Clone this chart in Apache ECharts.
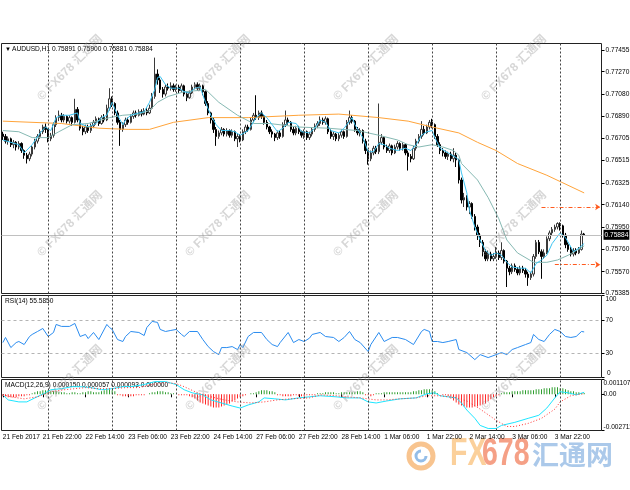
<!DOCTYPE html>
<html><head><meta charset="utf-8">
<script src="https://cdn.jsdelivr.net/npm/echarts@6/dist/echarts.min.js"></script>
<style>html,body{margin:0;padding:0;background:#fff}#c{width:630px;height:490px}</style>
</head><body><div id="c"></div>
<script>
// ---------- DATA ----------
const opens = [
0.7674,0.7672,0.7668,0.7670,0.7665,0.7667,0.7663,0.7666,0.7660,0.7656,
0.7653,0.7657,0.7663,0.7668,0.7672,0.7676,0.7680,0.7678,0.7670,0.7673,
0.7682,0.7688,0.7690,0.7686,0.7689,0.7685,0.7688,0.7684,0.7695,0.7686,
0.7679,0.7676,0.7680,0.7677,0.7681,0.7684,0.7687,0.7683,0.7688,0.7686,
0.7696,0.7704,0.7700,0.7692,0.7684,0.7678,0.7682,0.7686,0.7684,0.7689,
0.7692,0.7690,0.7693,0.7691,0.7694,0.7692,0.7696,0.7706,0.7725,0.7720,
0.7712,0.7708,0.7714,0.7713,0.7715,0.7712,0.7714,0.7711,0.7715,0.7708,
0.7705,0.7709,0.7714,0.7716,0.7713,0.7715,0.7710,0.7700,0.7692,0.7686,
0.7678,0.7672,0.7675,0.7678,0.7674,0.7677,0.7673,0.7676,0.7670,0.7672,
0.7669,0.7676,0.7680,0.7678,0.7686,0.7690,0.7688,0.7692,0.7689,0.7684,
0.7680,0.7676,0.7674,0.7671,0.7675,0.7672,0.7682,0.7686,0.7684,0.7678,
0.7675,0.7679,0.7676,0.7673,0.7676,0.7671,0.7674,0.7678,0.7681,0.7683,
0.7686,0.7684,0.7687,0.7676,0.7672,0.7674,0.7670,0.7673,0.7676,0.7672,
0.7684,0.7688,0.7685,0.7678,0.7675,0.7677,0.7668,0.7660,0.7653,0.7658,
0.7662,0.7659,0.7667,0.7671,0.7663,0.7660,0.7664,0.7658,0.7663,0.7666,
0.7662,0.7665,0.7658,0.7655,0.7653,0.7662,0.7668,0.7672,0.7678,0.7675,
0.7680,0.7684,0.7682,0.7672,0.7665,0.7660,0.7658,0.7655,0.7657,0.7653,
0.7656,0.7652,0.7635,0.7618,0.7620,0.7612,0.7615,0.7604,0.7595,0.7588,
0.7582,0.7574,0.7568,0.7572,0.7568,0.7570,0.7573,0.7569,0.7575,0.7566,
0.7560,0.7557,0.7562,0.7559,0.7556,0.7560,0.7558,0.7555,0.7552,0.7555,
0.7570,0.7582,0.7574,0.7570,0.7573,0.7585,0.7590,0.7593,0.7595,0.7598,
0.7596,0.7588,0.7580,0.7576,0.7572,0.7575,0.7573,0.7576,0.75891];
const closes = [
0.7672,0.7668,0.7670,0.7665,0.7667,0.7663,0.7666,0.7660,0.7656,0.7653,
0.7657,0.7663,0.7668,0.7672,0.7676,0.7680,0.7678,0.7670,0.7673,0.7682,
0.7688,0.7690,0.7686,0.7689,0.7685,0.7688,0.7684,0.7695,0.7686,0.7679,
0.7676,0.7680,0.7677,0.7681,0.7684,0.7687,0.7683,0.7688,0.7686,0.7696,
0.7704,0.7700,0.7692,0.7684,0.7678,0.7682,0.7686,0.7684,0.7689,0.7692,
0.7690,0.7693,0.7691,0.7694,0.7692,0.7696,0.7706,0.7725,0.7720,0.7712,
0.7708,0.7714,0.7713,0.7715,0.7712,0.7714,0.7711,0.7715,0.7708,0.7705,
0.7709,0.7714,0.7716,0.7713,0.7715,0.7710,0.7700,0.7692,0.7686,0.7678,
0.7672,0.7675,0.7678,0.7674,0.7677,0.7673,0.7676,0.7670,0.7672,0.7669,
0.7676,0.7680,0.7678,0.7686,0.7690,0.7688,0.7692,0.7689,0.7684,0.7680,
0.7676,0.7674,0.7671,0.7675,0.7672,0.7682,0.7686,0.7684,0.7678,0.7675,
0.7679,0.7676,0.7673,0.7676,0.7671,0.7674,0.7678,0.7681,0.7683,0.7686,
0.7684,0.7687,0.7676,0.7672,0.7674,0.7670,0.7673,0.7676,0.7672,0.7684,
0.7688,0.7685,0.7678,0.7675,0.7677,0.7668,0.7660,0.7653,0.7658,0.7662,
0.7659,0.7667,0.7671,0.7663,0.7660,0.7664,0.7658,0.7663,0.7666,0.7662,
0.7665,0.7658,0.7655,0.7653,0.7662,0.7668,0.7672,0.7678,0.7675,0.7680,
0.7684,0.7682,0.7672,0.7665,0.7660,0.7658,0.7655,0.7657,0.7653,0.7656,
0.7652,0.7635,0.7618,0.7620,0.7612,0.7615,0.7604,0.7595,0.7588,0.7582,
0.7574,0.7568,0.7572,0.7568,0.7570,0.7573,0.7569,0.7575,0.7566,0.7560,
0.7557,0.7562,0.7559,0.7556,0.7560,0.7558,0.7555,0.7552,0.7555,0.7570,
0.7582,0.7574,0.7570,0.7573,0.7585,0.7590,0.7593,0.7595,0.7598,0.7596,
0.7588,0.7580,0.7576,0.7572,0.7575,0.7573,0.7576,0.7589,0.75884];
const lows = [
0.7669,0.7666,0.7665,0.7663,0.7662,0.7660,0.7661,0.7658,0.7653,0.7649,
0.7651,0.7655,0.7661,0.7666,0.7670,0.7674,0.7675,0.7667,0.7668,0.7671,
0.7680,0.7685,0.7684,0.7684,0.7683,0.7683,0.7681,0.7683,0.7684,0.7677,
0.7673,0.7674,0.7675,0.7675,0.7679,0.7682,0.7681,0.7682,0.7684,0.7685,
0.7694,0.7697,0.7690,0.7682,0.7664,0.7676,0.7680,0.7682,0.7683,0.7687,
0.7688,0.7689,0.7689,0.7690,0.7690,0.7691,0.7695,0.7704,0.7716,0.7709,
0.7705,0.7706,0.7711,0.7711,0.7710,0.7710,0.7709,0.7710,0.7706,0.7702,
0.7704,0.7708,0.7712,0.7711,0.7711,0.7707,0.7698,0.7690,0.7683,0.7675,
0.7664,0.7670,0.7673,0.7672,0.7672,0.7671,0.7671,0.7668,0.7663,0.7667,
0.7668,0.7674,0.7676,0.7677,0.7684,0.7686,0.7686,0.7687,0.7682,0.7678,
0.7674,0.7671,0.7668,0.7669,0.7670,0.7671,0.7680,0.7682,0.7676,0.7673,
0.7673,0.7674,0.7671,0.7670,0.7669,0.7669,0.7672,0.7676,0.7679,0.7681,
0.7682,0.7682,0.7674,0.7670,0.7669,0.7668,0.7668,0.7671,0.7670,0.7671,
0.7682,0.7683,0.7676,0.7673,0.7672,0.7666,0.7657,0.7648,0.7651,0.7656,
0.7657,0.7657,0.7665,0.7661,0.7658,0.7658,0.7656,0.7657,0.7661,0.7660,
0.7660,0.7656,0.7643,0.7650,0.7652,0.7660,0.7666,0.7670,0.7673,0.7674,
0.7678,0.7679,0.7670,0.7663,0.7657,0.7655,0.7653,0.7652,0.7651,0.7650,
0.7646,0.7632,0.7615,0.7612,0.7609,0.7606,0.7602,0.7592,0.7584,0.7578,
0.7570,0.7566,0.7566,0.7566,0.7566,0.7568,0.7567,0.7567,0.7564,0.7544,
0.7554,0.7555,0.7557,0.7554,0.7554,0.7556,0.7552,0.7545,0.7550,0.7553,
0.7568,0.7572,0.7551,0.7568,0.7572,0.7583,0.7588,0.7591,0.7593,0.7592,
0.7586,0.7577,0.7574,0.7570,0.7570,0.7571,0.7572,0.7575,0.75881];
const highs = [
0.7676,0.7674,0.7672,0.7671,0.7669,0.7668,0.7668,0.7667,0.7661,0.7658,
0.7659,0.7664,0.7670,0.7674,0.7678,0.7682,0.7683,0.7679,0.7675,0.7684,
0.7690,0.7694,0.7692,0.7691,0.7690,0.7690,0.7689,0.7704,0.7697,0.7687,
0.7681,0.7682,0.7682,0.7683,0.7686,0.7689,0.7688,0.7690,0.7691,0.7699,
0.7713,0.7706,0.7701,0.7694,0.7686,0.7684,0.7688,0.7688,0.7691,0.7694,
0.7694,0.7695,0.7695,0.7696,0.7696,0.7699,0.7709,0.7739,0.7729,0.7722,
0.7714,0.7716,0.7717,0.7718,0.7717,0.7716,0.7716,0.7717,0.7716,0.7710,
0.7711,0.7716,0.7718,0.7718,0.7717,0.7716,0.7711,0.7702,0.7693,0.7688,
0.7680,0.7677,0.7680,0.7679,0.7679,0.7678,0.7678,0.7677,0.7674,0.7674,
0.7678,0.7682,0.7682,0.7688,0.7692,0.7707,0.7694,0.7694,0.7690,0.7686,
0.7681,0.7678,0.7675,0.7677,0.7677,0.7684,0.7694,0.7688,0.7685,0.7680,
0.7681,0.7681,0.7677,0.7678,0.7677,0.7676,0.7680,0.7683,0.7685,0.7689,
0.7688,0.7689,0.7688,0.7678,0.7676,0.7675,0.7675,0.7678,0.7677,0.7686,
0.7694,0.7690,0.7686,0.7680,0.7679,0.7678,0.7670,0.7661,0.7660,0.7664,
0.7664,0.7700,0.7674,0.7672,0.7665,0.7666,0.7665,0.7665,0.7668,0.7667,
0.7667,0.7666,0.7660,0.7657,0.7664,0.7670,0.7674,0.7685,0.7681,0.7682,
0.7686,0.7687,0.7683,0.7674,0.7667,0.7662,0.7660,0.7659,0.7659,0.7662,
0.7658,0.7653,0.7637,0.7624,0.7622,0.7617,0.7616,0.7606,0.7597,0.7590,
0.7584,0.7576,0.7575,0.7574,0.7573,0.7578,0.7575,0.7582,0.7576,0.7567,
0.7562,0.7564,0.7564,0.7561,0.7562,0.7562,0.7560,0.7557,0.7557,0.7572,
0.7584,0.7584,0.7576,0.7576,0.7587,0.7592,0.7595,0.7597,0.7599,0.7599,
0.7597,0.7590,0.7582,0.7578,0.7577,0.7577,0.7578,0.7592,0.75900];

// moving averages: [bar index, value]
const fastMA = [[0,0.7669],[3,0.7667],[6,0.7665],[8,0.7658],[11,0.7665],[14,0.7675],[16,0.7680],[18,0.7677],[20,0.7688],[22,0.7690],[25,0.7690],[28,0.7692],[29,0.7683],[32,0.7680],[35,0.7683],[37,0.7688],[39,0.7690],[41,0.7701],[43,0.7690],[45,0.7682],[46,0.7686],[48,0.7690],[51,0.7692],[53,0.7693],[55,0.7701],[57,0.7712],[58,0.7722],[59,0.7723],[61,0.7716],[63,0.7713],[66,0.7713],[68,0.7710],[70,0.7709],[72,0.7713],[74,0.7714],[76,0.7701],[78,0.7690],[80,0.7682],[82,0.7677],[85,0.7677],[87,0.7676],[89,0.7673],[92,0.7677],[95,0.7688],[97,0.7692],[99,0.7688],[101,0.7682],[103,0.7676],[105,0.7679],[107,0.7684],[110,0.7683],[112,0.7676],[115,0.7675],[117,0.7679],[119,0.7686],[121,0.7684],[123,0.7677],[126,0.7675],[128,0.7679],[131,0.7688],[132,0.7682],[135,0.7671],[137,0.7659],[139,0.7659],[141,0.7666],[143,0.7665],[145,0.7662],[148,0.7660],[151,0.7662],[153,0.7660],[155,0.7665],[157,0.7673],[159,0.7676],[161,0.7677],[162,0.7671],[164,0.7662],[167,0.7658],[170,0.7654],[171,0.7652],[172,0.7641],[174,0.7624],[175,0.7609],[177,0.7595],[179,0.7584],[181,0.7575],[183,0.7571],[185,0.7573],[187,0.7571],[189,0.7565],[191,0.7561],[194,0.7560],[196,0.7560],[198,0.7556],[200,0.7564],[202,0.7567],[204,0.7571],[206,0.7581],[209,0.7590],[211,0.7586],[213,0.7578],[214,0.7574],[216,0.7577],[218,0.7581]];
const slowMA = [[0,0.7677],[6,0.7676],[11,0.7671],[17,0.7671],[21,0.7676],[26,0.7682],[32,0.7683],[40,0.7688],[45,0.7690],[51,0.7691],[55,0.7694],[58,0.7701],[62,0.7706],[68,0.7710],[73,0.7711],[76,0.7712],[81,0.7701],[88,0.7690],[94,0.7683],[100,0.7683],[111,0.7680],[122,0.7679],[133,0.7677],[141,0.7673],[148,0.7669],[152,0.7665],[156,0.7663],[161,0.7665],[165,0.7663],[169,0.7660],[171,0.7656],[172,0.7649],[178,0.7635],[182,0.7620],[186,0.7602],[189,0.7584],[193,0.7573],[199,0.7565],[204,0.7565],[208,0.7567],[212,0.7571],[218,0.7579]];
const longMA = [[0,0.7685],[22,0.7683],[36,0.7679],[47,0.7678],[55,0.7678],[64,0.7684],[77,0.7688],[92,0.7688],[111,0.7690],[126,0.7691],[141,0.7688],[152,0.7685],[161,0.7680],[171,0.7675],[178,0.7667],[185,0.7660],[193,0.7649],[204,0.7639],[218,0.7624]];

const rsi = [[0,42.6],[1,48.8],[3,36.5],[5,42.6],[6,43.9],[8,40.2],[10,50.0],[11,52.5],[13,56.1],[15,59.8],[17,50.0],[19,54.9],[20,64.7],[22,62.3],[25,62.3],[27,65.9],[29,50.0],[31,52.5],[32,47.5],[34,54.9],[36,46.3],[39,64.7],[40,61.0],[41,58.6],[43,46.3],[45,43.9],[46,50.0],[48,56.1],[51,54.9],[53,51.2],[54,61.0],[56,68.4],[58,67.2],[59,58.6],[61,56.1],[63,57.4],[65,58.6],[67,52.5],[68,50.0],[70,56.1],[73,56.1],[75,46.3],[77,37.7],[79,31.6],[81,27.9],[82,36.5],[84,36.5],[86,37.7],[88,34.1],[89,40.2],[90,36.5],[92,50.0],[94,54.9],[97,54.9],[99,46.3],[101,40.2],[103,37.7],[104,42.6],[107,54.9],[109,42.6],[111,46.3],[113,43.9],[115,48.0],[116,52.5],[119,54.9],[121,50.0],[124,48.8],[126,43.9],[128,48.8],[130,56.1],[132,46.3],[134,42.6],[137,31.6],[138,40.2],[141,54.9],[143,43.9],[146,48.8],[148,48.8],[151,46.3],[154,40.2],[157,56.1],[158,58.6],[160,56.1],[161,43.9],[163,43.9],[165,42.6],[167,43.9],[170,46.3],[171,34.1],[174,30.4],[177,21.8],[179,27.9],[182,24.3],[185,27.9],[187,30.4],[189,27.9],[191,34.1],[193,36.5],[196,40.2],[198,42.6],[199,52.5],[201,46.3],[203,43.9],[205,52.5],[207,58.6],[209,56.1],[211,50.0],[213,48.8],[215,50.0],[217,56.1],[218,55.585]];

const macdMain = [[0,-0.00004],[2,-0.00042],[6,-0.00057],[9,-0.00057],[12,-0.00027],[16,0.00011],[18,0.00034],[22,0.00042],[26,0.00057],[29,0.00057],[33,0.0005],[37,0.00034],[41,0.00042],[45,0.00057],[48,0.00057],[53,0.00073],[57,0.00095],[61,0.00095],[65,0.00073],[68,0.00034],[71,0.00011],[75,-0.00004],[78,-0.00042],[82,-0.00065],[86,-0.00088],[89,-0.00103],[92,-0.0008],[96,-0.00057],[98,-0.00027],[102,-0.00034],[106,-0.00042],[111,-0.00027],[115,-0.00019],[119,-0.00011],[125,-0.00019],[129,-0.00027],[134,-0.00027],[137,-0.00057],[140,-0.00065],[144,-0.0005],[149,-0.00034],[155,-0.00027],[159,0.00004],[162,0.00011],[164,-0.00011],[170,-0.00027],[172,-0.00065],[174,-0.00118],[177,-0.0018],[179,-0.00233],[182,-0.00256],[185,-0.00256],[187,-0.00233],[192,-0.0021],[197,-0.0018],[201,-0.00157],[204,-0.00103],[207,-0.00027],[209,0.00019],[212,0.00011],[215,-0.00004],[218,0.00015]];
const macdSignal = [[0,-0.00004],[3,-0.00019],[8,-0.00034],[13,-0.00019],[18,0.00019],[23,0.00034],[31,0.0005],[36,0.00042],[41,0.00042],[46,0.0005],[51,0.0005],[56,0.00073],[61,0.00088],[65,0.0008],[68,0.00057],[73,0.00011],[78,-0.00019],[83,-0.00042],[88,-0.00057],[93,-0.00065],[98,-0.00057],[103,-0.00042],[108,-0.00034],[115,-0.00027],[119,-0.00004],[125,-0.00011],[129,-0.00019],[134,-0.00027],[140,-0.00042],[144,-0.00042],[149,-0.00034],[155,-0.00027],[159,-0.00011],[164,-0.00011],[170,-0.00027],[174,-0.0005],[179,-0.00111],[185,-0.00195],[189,-0.00241],[192,-0.00241],[197,-0.00218],[202,-0.0018],[207,-0.00111],[209,-0.00057],[213,-0.00011],[218,0.000057]];
const macdHist = [
-0.00015,-0.00015,-0.00023,-0.00023,-0.00023,-0.00023,-0.00015,-0.00015,-0.00015,-0.00008,-0.00008,
0.00008,0.00015,0.00023,0.00023,0.00031,0.00031,0.00031,0.00023,0.00023,0.00023,0.00015,
0.00015,0.00015,0.00008,0.00008,0.00015,0.00015,0.00008,
0.00008,0.00015,0.00015,0.00023,0.00023,0.00015,0.00015,0.00015,
0.00023,0.00031,0.00038,0.00038,0.00031,0.00023,
-0.00008,-0.00008,-0.00015,-0.00015,-0.00015,-0.00015,-0.00015,-0.00008,-0.00008,-0.00008,-0.00008,0,
0.00008,0.00015,0.00015,0.00023,0.00023,0.00023,0.00015,0.00015,
0.00008,0.00008,0,-0.00008,-0.00008,-0.00008,-0.00008,-0.00015,
-0.00023,-0.00031,-0.00046,-0.00061,-0.00069,-0.00076,-0.00084,-0.00092,-0.00099,-0.00099,-0.00099,-0.00092,-0.00084,-0.00076,-0.00069,-0.00053,-0.00046,-0.00031,-0.00023,-0.00015,
-0.00008,0,0.00008,0.00008,
0.00015,0.00023,0.00031,0.00031,0.00031,0.00023,0.00023,0.00015,
-0.00008,-0.00008,-0.00015,-0.00015,-0.00015,-0.00015,-0.00008,-0.00008,
-0.00015,-0.00015,-0.00015,-0.00008,-0.00008,-0.00008,-0.00008,0.00008,
0.00008,0.00008,0.00015,0.00015,0.00015,0.00015,0.00008,0.00008,0.00015,0.00015,0.00015,0.00015,
0.00015,0.00015,0.00023,0.00023,0.00015,-0.00008,-0.00008,-0.00015,-0.00008,0.00008,
0.00008,0.00008,0.00015,0.00015,0.00015,0.00015,0.00015,0.00015,0.00015,0.00015,
0.00015,0.00015,0.00015,0.00023,0.00023,
0.00031,0.00031,0.00038,0.00038,0.00038,0.00031,0.00023,
0.00008,0,-0.00008,-0.00008,
-0.00015,-0.00031,-0.00046,-0.00061,-0.00076,-0.00084,-0.00092,-0.00099,-0.00099,-0.00099,-0.00092,-0.00092,-0.00084,-0.00076,-0.00069,-0.00053,-0.00038,-0.00023,-0.00015,-0.00008,
0.00008,0.00015,0.00015,0.00015,0.00023,0.00023,0.00023,0.00023,0.00031,0.00031,0.00031,0.00031,0.00031,0.00038,
0.00038,0.00038,0.00046,0.00046,0.00046,0.00053,0.00053,0.00053,0.00046,0.00046,0.00038,0.00031,
0.00023,0.00023,0.00015,0.00015,0.00008,0.000093];

const priceTicks = [0.77455,0.77270,0.77080,0.76890,0.76705,0.76515,0.76325,0.76140,0.75950,0.75760,0.75570,0.75385];
const rsiTicks = [0,30,70,100];
const rsiLevels = [70,30];
const macdTicks = [-0.002711,0,0.001107];
const timeLabels = ['21 Feb 2017','21 Feb 22:00','22 Feb 14:00','23 Feb 06:00','23 Feb 22:00','24 Feb 14:00','27 Feb 06:00','27 Feb 22:00','28 Feb 14:00','1 Mar 06:00','1 Mar 22:00','2 Mar 14:00','3 Mar 06:00','3 Mar 22:00'];
const labelIdx = [0,15,31,47,63,79,95,111,127,143,159,175,191,207];
const dayIdx = [17,41,65,89,113,137,161,185,209];
const levelLines = [0.7612,0.7563];
const levelStart = [202,207];
const slotCount = 225;

// ---------- CHART ----------
const FONT = "'Liberation Sans',Arial,sans-serif";
const FS = 6.6;
const cats = Array.from({length: slotCount}, (_, i) => String(i));
const showLbl = (idx) => labelIdx.indexOf(idx) >= 0;
const candles = opens.map((o, i) => [o, closes[i], lows[i], highs[i]]);
const last = closes[closes.length - 1];

const sepLines = () => dayIdx.map(i => ({xAxis: i, lineStyle: {color: '#444', type: [2, 2], width: 1}, label: {show: false}}));

const gridBase = {left: 1.5, right: 28.5, show: true, borderColor: '#222', borderWidth: 1, containLabel: false, outerBoundsMode: 'none'};
const axisLbl = {fontSize: FS, fontFamily: FONT, color: '#000'};

const wm = [];
[68, 224, 378].forEach(cy => [70, 218, 366, 514].forEach(cx => {
  wm.push({type: 'text', x: cx, y: cy, rotation: Math.PI / 4, silent: true, z: 50,
    style: {text: '© FX678 汇通网', fill: 'rgba(140,140,140,0.36)', font: "bold 12px 'Liberation Sans','Noto Sans CJK SC',sans-serif", align: 'center', verticalAlign: 'middle'}});
}));

const option = {
  animation: false,
  backgroundColor: '#fff',
  grid: [
    Object.assign({top: 43.5, height: 250}, gridBase),
    Object.assign({top: 295.5, height: 82}, gridBase),
    Object.assign({top: 379.5, height: 51}, gridBase)
  ],
  xAxis: [
    {type: 'category', gridIndex: 0, data: cats, show: false},
    {type: 'category', gridIndex: 1, data: cats, show: false},
    {type: 'category', gridIndex: 2, data: cats,
      axisLine: {show: false},
      axisTick: {show: true, interval: showLbl, alignWithLabel: true, length: 3, lineStyle: {color: '#000'}},
      axisLabel: Object.assign({interval: showLbl, showMinLabel: true, formatter: (v) => { const k = labelIdx.indexOf(Number(v)); return k >= 0 ? timeLabels[k] : ''; }, align: 'left', margin: 3}, axisLbl),
      splitLine: {show: false}}
  ],
  yAxis: [
    {type: 'value', gridIndex: 0, position: 'right', min: 0.75385, max: 0.7751, splitLine: {show: false},
      axisLine: {show: false},
      axisTick: {show: true, length: 3, customValues: priceTicks, lineStyle: {color: '#000'}},
      axisLabel: Object.assign({customValues: priceTicks, margin: 4, showMinLabel: true, showMaxLabel: true, formatter: v => v.toFixed(5)}, axisLbl)},
    {type: 'value', gridIndex: 1, position: 'right', min: 0, max: 100, splitLine: {show: false},
      axisLine: {show: false},
      axisTick: {show: true, length: 3, customValues: rsiTicks, lineStyle: {color: '#000'}},
      axisLabel: Object.assign({customValues: rsiTicks, margin: 4, showMinLabel: true, showMaxLabel: true,
        formatter: v => v === 100 ? '{t|100}' : (v === 0 ? '' : String(v)),
        rich: {t: {padding: [7, 0, 0, 0], fontSize: FS, fontFamily: FONT}}}, axisLbl)},
    {type: 'value', gridIndex: 2, position: 'right', min: -0.002711, max: 0.001107, splitLine: {show: false},
      axisLine: {show: false},
      axisTick: {show: true, length: 3, customValues: macdTicks, lineStyle: {color: '#000'}},
      axisLabel: Object.assign({customValues: macdTicks, margin: 2, showMinLabel: true, showMaxLabel: true,
        formatter: v => v === 0 ? '0.00' : (v > 0 ? '{t|' + v.toFixed(6) + '}' : '{b|' + v.toFixed(6) + '}'),
        rich: {t: {padding: [7, 0, 0, 0], fontSize: FS, fontFamily: FONT}, b: {padding: [0, 0, 7, 0], fontSize: FS, fontFamily: FONT}}}, axisLbl)}
  ],
  series: [
    {type: 'candlestick', xAxisIndex: 0, yAxisIndex: 0, data: candles, barWidth: 2,
      itemStyle: {color: '#ffffff', color0: '#000000', borderColor: '#3a3a3a', borderColor0: '#000000', borderWidth: 1},
      markLine: {silent: true, symbol: ['none', 'none'], animation: false, precision: 5,
        data: sepLines().concat(levelLines.map((v, k) => [
          {coord: [levelStart[k], v], symbol: 'none', lineStyle: {color: '#ff5a1e', type: [4, 2, 1, 2], width: 1}, label: {show: false}},
          {coord: [slotCount - 1, v], symbol: 'arrow', symbolSize: 5}
        ]))}},
    {type: 'line', xAxisIndex: 0, yAxisIndex: 0, data: longMA, showSymbol: false, lineStyle: {color: '#ffa43a', width: 1}, z: 3},
    {type: 'line', xAxisIndex: 0, yAxisIndex: 0, data: slowMA, showSymbol: false, lineStyle: {color: '#86b9b3', width: 1}, z: 3},
    {type: 'line', xAxisIndex: 0, yAxisIndex: 0, data: fastMA, showSymbol: false, lineStyle: {color: '#3cc4f2', width: 1}, z: 3,
      markLine: {silent: true, symbol: ['none', 'none'], animation: false, precision: 5,
        data: [{yAxis: last, lineStyle: {color: '#c0c0c0', type: 'solid', width: 1},
          label: {show: true, position: 'end', distance: 2, formatter: last.toFixed(5), color: '#fff', backgroundColor: '#000', padding: [2, 1, 1, 1], fontSize: FS, fontFamily: FONT}}]}},
    {type: 'line', xAxisIndex: 1, yAxisIndex: 1, data: rsi, showSymbol: false, lineStyle: {color: '#2a8cf0', width: 1},
      markLine: {silent: true, symbol: ['none', 'none'],
        data: sepLines().concat(
          rsiLevels.map(v => ({yAxis: v, lineStyle: {color: '#b4b4b4', type: [3, 3], width: 1}, label: {show: false}})))}},
    {type: 'bar', xAxisIndex: 2, yAxisIndex: 2, data: macdHist, barWidth: 1,
      itemStyle: {color: p => p.value >= 0 ? '#2e9e2e' : '#ff2a2a'},
      markLine: {silent: true, symbol: ['none', 'none'], data: sepLines()}},
    {type: 'line', xAxisIndex: 2, yAxisIndex: 2, data: macdMain, showSymbol: false, lineStyle: {color: '#1ee6ff', width: 1}},
    {type: 'line', xAxisIndex: 2, yAxisIndex: 2, data: macdSignal, showSymbol: false, lineStyle: {color: '#ff3030', width: 1, type: [1, 2]}}
  ],
  graphic: wm.concat([
    {type: 'text', x: 5, y: 49, silent: true, style: {text: '▼', fill: '#000', font: '6px ' + FONT, verticalAlign: 'middle'}},
    {type: 'text', x: 12, y: 49, silent: true, style: {text: 'AUDUSD,H1 0.75891 0.75900 0.75881 0.75884', fill: '#000', font: FS + 'px ' + FONT, verticalAlign: 'middle'}},
    {type: 'text', x: 5, y: 301, silent: true, style: {text: 'RSI(14) 55.5850', fill: '#000', font: FS + 'px ' + FONT, verticalAlign: 'middle'}},
    {type: 'text', x: 5, y: 385, silent: true, style: {text: 'MACD(12,26,9) 0.000150 0.000057 0.000093 0.000000', fill: '#000', font: FS + 'px ' + FONT, verticalAlign: 'middle'}},
    {type: 'text', x: 607, y: 373, silent: true, style: {text: String(rsiTicks[0]), fill: '#000', font: FS + 'px ' + FONT, verticalAlign: 'middle'}},
    {type: 'circle', shape: {cx: 421, cy: 456, r: 12}, silent: true, style: {fill: 'none', stroke: '#f8c48f', lineWidth: 5}},
    {type: 'arc', shape: {cx: 421, cy: 456, r: 5, startAngle: 0, endAngle: Math.PI * 1.5}, silent: true, style: {fill: 'none', stroke: '#93bde8', lineWidth: 3}},
    {type: 'text', x: 450, y: 455, scaleX: 0.75, silent: true, style: {text: 'FX', fill: '#fbd09b', font: "bold 38px " + FONT, verticalAlign: 'middle'}},
    {type: 'text', x: 482, y: 455, scaleX: 0.75, silent: true, style: {text: '678', fill: '#f5a086', font: "bold 38px " + FONT, verticalAlign: 'middle'}},
    {type: 'text', x: 532, y: 455, silent: true, style: {text: '汇通网', fill: '#abc9ea', font: "bold 27px 'Noto Sans CJK SC',sans-serif", verticalAlign: 'middle'}}
  ])
};
const chart = echarts.init(document.getElementById('c'), null, {renderer: 'canvas'});
chart.setOption(option);
</script></body></html>
